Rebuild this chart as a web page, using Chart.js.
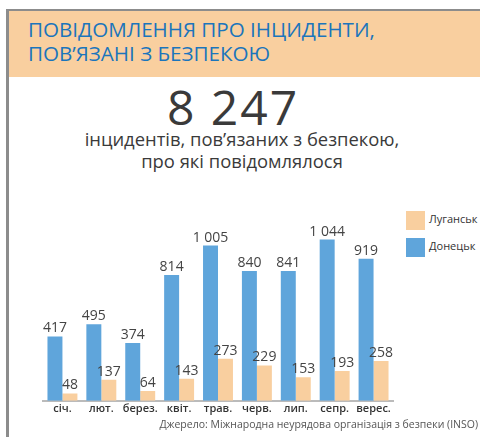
<!DOCTYPE html>
<html>
<head>
<meta charset="utf-8">
<script src="https://cdn.jsdelivr.net/npm/chart.js@4.4.1/dist/chart.umd.min.js"></script>
<style>
  body { margin: 0; width: 480px; height: 437px; background: #fff; position: relative; overflow: hidden; font-family: "Open Sans", "Noto Sans", sans-serif; }
  .frame-top { position: absolute; left: 6px; top: 9px; width: 474px; height: 2px; background: #8c8c8c; }
  .frame-left { position: absolute; left: 6px; top: 9px; width: 3px; height: 428px; background: #8c8c8c; }
  .band { position: absolute; left: 9px; top: 11px; width: 471px; height: 66px; background: #f9cf9f; }
  .title { position: absolute; left: 28px; top: 17px; color: #1b75bc; font-size: 20.6px; line-height: 24px; white-space: nowrap; }
  .big { position: absolute; left: 0; width: 466px; text-align: center; top: 79px; font-size: 48px; letter-spacing: 2px; color: #3a3a3a; line-height: 56px; }
  .sub { position: absolute; left: 0; width: 484px; text-align: center; top: 128px; font-size: 18.4px; font-weight: 500; color: #3a3a3a; line-height: 22px; }
  #wrap { position: absolute; left: 0; top: 180px; width: 400px; height: 240px; }
  .legend { position: absolute; left: 406px; font-size: 11px; color: #333; }
  .legend span { display: inline-block; width: 19px; height: 19px; vertical-align: middle; margin-right: 4px; }
  .source { position: absolute; right: 2px; top: 417px; font-size: 10.5px; color: #555; white-space: nowrap; }
</style>
</head>
<body>
<div class="frame-top"></div>
<div class="frame-left"></div>
<div class="band"></div>
<div class="title">ПОВІДОМЛЕННЯ ПРО ІНЦИДЕНТИ,<br>ПОВ’ЯЗАНІ З БЕЗПЕКОЮ</div>
<div class="big">8 247</div>
<div class="sub">інцидентів, пов’язаних з безпекою,<br>про які повідомлялося</div>
<div id="wrap"><canvas id="incidentsChart"></canvas></div>
<div class="legend" style="top:211px"><span style="background:#f9cf9f"></span>Луганськ</div>
<div class="legend" style="top:238px"><span style="background:#5fa5db"></span>Донецьк</div>
<div class="source">Джерело:  Міжнародна неурядова організація з безпеки (INSO)</div>

<script>
var months = ['січ.', 'лют.', 'берез.', 'квіт.', 'трав.', 'черв.', 'лип.', 'сепр.', 'верес.'];
var donetsk = [417, 495, 374, 814, 1005, 840, 841, 1044, 919];
var luhansk = [48, 137, 64, 143, 273, 229, 153, 193, 258];

function fmt(n) {
    var s = String(n);
    return s.length > 3 ? s.slice(0, s.length - 3) + ' ' + s.slice(-3) : s;
}

// values over the bars
var valueLabels = {
    id: 'valueLabels',
    afterDatasetsDraw: function(chart) {
        var ctx = chart.ctx;
        ctx.save();
        ctx.font = '14px "Open Sans", sans-serif';
        ctx.fillStyle = '#444';
        ctx.textAlign = 'center';
        ctx.textBaseline = 'alphabetic';
        chart.data.datasets.forEach(function(ds, i) {
            chart.getDatasetMeta(i).data.forEach(function(bar, j) {
                ctx.fillText(fmt(ds.data[j]), bar.x, bar.y - 4);
            });
        });
        ctx.restore();
    }
};

var ctx = document.getElementById('incidentsChart').getContext('2d');
var incidentsChart = new Chart(ctx, {
    type: 'bar',
    data: {
        labels: months,
        datasets: [
            { label: 'Донецьк', data: donetsk, backgroundColor: '#5fa5db', borderWidth: 0 },
            { label: 'Луганськ', data: luhansk, backgroundColor: '#f9cf9f', borderWidth: 0 }
        ]
    },
    options: {
        responsive: true,
        maintainAspectRatio: false,
        animation: false,
        layout: { padding: { left: 43, right: 7, top: 20, bottom: 4 } },
        datasets: { bar: { categoryPercentage: 0.77, barPercentage: 1.0 } },
        plugins: {
            legend: { display: false },
            tooltip: { enabled: false }
        },
        scales: {
            x: {
                grid: { display: false, drawTicks: false },
                border: { display: true, color: '#bbbbbb', width: 2 },
                ticks: {
                    color: '#333',
                    font: { size: 11, weight: '600', family: '"Open Sans", sans-serif' },
                    padding: 1,
                    maxRotation: 0,
                    autoSkip: false
                }
            },
            y: {
                display: false,
                min: 0,
                max: 1300
            }
        }
    },
    plugins: [valueLabels]
});
</script>
</body>
</html>
